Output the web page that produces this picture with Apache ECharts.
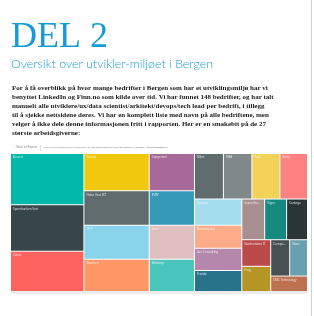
<!DOCTYPE html>
<html>
<head>
<meta charset="utf-8">
<script src="https://cdn.jsdelivr.net/npm/echarts@6/dist/echarts.min.js"></script>
<style>
  html, body { margin: 0; padding: 0; background: #fff; }
  #chart { width: 314px; height: 316px; }
</style>
</head>
<body>
<div id="chart"></div>
<script>
  // bedrifter (navn er lest så godt det går fra de små etikettene)
  var companies = [
    'Bouvet', 'Sparebanken Vest', 'Visma', 'Knowit', 'Helse Vest IKT', 'TV 2', 'Sbanken',
    'Capgemini', 'EVRY', 'Itera', 'Webstep', 'Miles', 'DNB', 'Vizrt', 'Eviny',
    'Equinor', 'Netcompany', 'Avo Consulting', 'Frende', 'Sopra Steria Connection', 'Vipps', 'Kantega',
    'Skatteetaten IT', 'Frog', 'Computas AS Bergen', 'Stacc', 'CMC Technology'
  ];
  // antall utviklere per bedrift (anslått fra flatene)
  var developers = [
    186, 168, 146, 120, 111, 110, 104,
    83, 77, 76, 72, 65, 64, 63, 62,
    61, 54, 52, 49, 46, 44, 42,
    38, 36, 34, 32, 28
  ];
  var colors = [
    '#01B8AA', '#374649', '#FD625E', '#F2C80F', '#5F6B6D', '#8AD4EB', '#FE9666',
    '#A66999', '#3599B8', '#DFBFBF', '#4AC5BB', '#5F6B6D', '#7F898A', '#F4D25A', '#FB8281',
    '#A4DDEE', '#FDAB89', '#B687AC', '#28738A', '#A78F8F', '#168980', '#293537',
    '#BB4A4A', '#B59525', '#475052', '#6A9FB0', '#BD7150'
  ];

  var paragraph = [
    'For å få overblikk på hvor mange bedrifter i Bergen som har et utviklingsmiljø har vi',
    'benyttet LinkedIn og Finn.no som kilde over tid. Vi har funnet 148 bedrifter, og har talt',
    'manuelt alle utviklere/ux/data scientist/arkitekt/devops/tech lead per bedrift, i tillegg',
    'til å sjekke nettsidene deres. Vi har en komplett liste med navn på alle bedriftene, men',
    'velger å ikke dele denne informasjonen fritt i rapporten. Her er en smakebit på de 27',
    'største arbeidsgiverne:'
  ];

  var treeData = companies.map(function (name, i) {
    return { name: name, value: developers[i], itemStyle: { color: colors[i] } };
  });

  var graphics = [
    {
      type: 'text', left: 11, top: 20,
      style: { text: 'DEL 2', font: '36px "Liberation Serif"', fill: '#179BD7' }
    },
    {
      type: 'text', left: 11, top: 58,
      style: { text: 'Oversikt over utvikler-miljøet i Bergen', font: '300 12.4px Lato', fill: '#179BD7' }
    },
    {
      type: 'text', left: 14, top: 146,
      style: { text: '‹  Back to Report', font: '3px "Noto Sans"', fill: '#8a8a8a' }
    },
    {
      type: 'line', shape: { x1: 40.5, y1: 145, x2: 40.5, y2: 151 },
      style: { stroke: '#ddd', lineWidth: 1 }
    },
    {
      type: 'text', left: 43, top: 146.5,
      style: { text: 'ANTALL UTVIKLERE/UX/DATA SCIENTIST/ARKITEKT/DEVOPS/TECH LEAD PER BEDRIFT I BERGEN, IFØLGE LINKEDIN', font: '2.3px "Noto Sans"', fill: '#777' }
    },
    {
      type: 'text', left: 153, top: 146.5,
      style: { text: 'BY SELSKAPET', font: '2.3px "Noto Sans"', fill: '#999' }
    },
    {
      type: 'rect', shape: { x: 11, y: 291, width: 296, height: 3 },
      style: { fill: '#ececec' }
    },
    {
      type: 'line', shape: { x1: 311.5, y1: 0, x2: 311.5, y2: 316 },
      style: { stroke: '#d0d0d0', lineWidth: 1 }
    }
  ];
  paragraph.forEach(function (line, i) {
    graphics.push({
      type: 'text', left: 12, top: 85 + i * 9,
      style: { text: line, font: 'bold 7px "Liberation Serif"', fill: '#222' }
    });
  });

  var myChart = echarts.init(document.getElementById('chart'));
  myChart.setOption({
    animation: false,
    graphic: graphics,
    series: [{
      type: 'treemap',
      left: 11,
      top: 154,
      width: 296,
      height: 137,
      roam: false,
      nodeClick: false,
      breadcrumb: { show: false },
      squareRatio: 0.5 * (1 + Math.sqrt(5)),
      label: {
        show: true,
        position: 'insideTopLeft',
        padding: [2, 2],
        fontSize: 3,
        fontFamily: 'Noto Sans',
        color: 'rgba(255,255,255,0.8)'
      },
      levels: [
        { itemStyle: { borderWidth: 0, gapWidth: 1, borderColor: '#fff' } },
        { itemStyle: { borderWidth: 0, gapWidth: 0 } }
      ],
      data: treeData
    }]
  });
</script>
</body>
</html>
